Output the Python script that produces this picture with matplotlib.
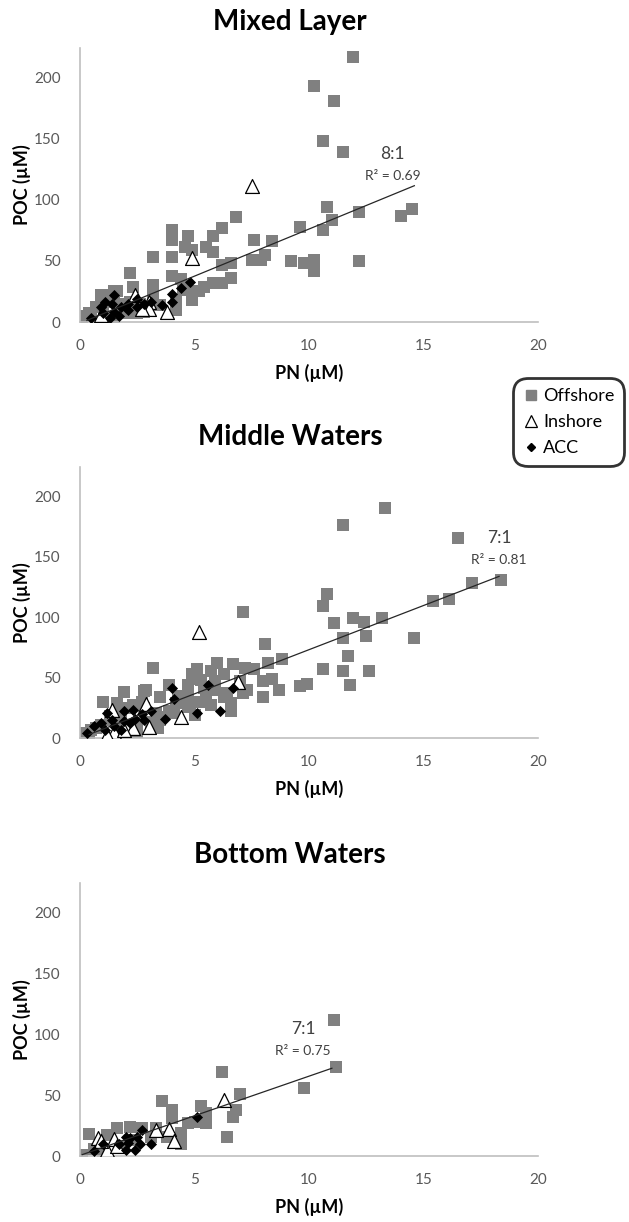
import numpy as np
import matplotlib
matplotlib.use("Agg")
import matplotlib.pyplot as plt
from matplotlib.lines import Line2D

plt.rcParams['font.family'] = ['Lato', 'DejaVu Sans']

# ---- Mixed Layer ----
ml_off_pn = [11.9, 10.2, 11.1, 10.6, 11.5, 10.8, 12.2, 14.0, 14.5, 11.0, 10.6, 9.6, 6.8, 6.2, 5.8, 5.5, 5.8,
             4.0, 4.0, 4.7, 4.6, 4.9, 7.6, 8.4, 8.1, 7.5, 7.9, 9.2, 9.8, 10.2, 10.2, 12.2, 6.6, 6.2, 6.6, 6.2,
             5.8, 5.4, 5.2, 4.9, 4.9, 3.2, 4.0, 2.2, 4.0, 4.4, 3.2, 2.3, 1.5, 0.9, 4.2, 3.2, 2.6, 2.8, 0.7,
             0.4, 0.1, 1.2, 1.9, 3.5, 2.5, 0.2, 1.5, 2.2, 0.9, 4.2,
             1.0, 1.6, 3.2, 0.5, 1.0, 1.8, 2.5, 3.2, 2.1, 1.5, 4.5]
ml_off_poc = [217, 193, 181, 148, 139, 94, 90, 87, 92, 83, 75, 78, 86, 77, 70, 61, 57,
              75, 67, 70, 61, 59, 67, 66, 55, 51, 51, 50, 48, 51, 42, 50, 48, 47, 36, 32,
              32, 29, 25, 18, 25, 53, 53, 40, 38, 35, 30, 29, 25, 22, 16, 23, 15, 8, 12,
              7, 3, 4, 10, 14, 7, 5, 16, 16, 1, 10,
              22, 25, 30, 7, 12, 15, 14, 15, 7, 4, 26]
ml_in_pn = [7.5, 4.9, 3.8, 2.4, 3.0, 3.0, 2.7, 0.9]
ml_in_poc = [111, 52, 8, 22, 16, 11, 11, 6]
ml_acc_pn = [4.8, 4.4, 4.0, 4.0, 3.6, 3.1, 2.8, 2.5, 2.1, 1.8, 1.5, 1.4, 1.1, 0.9, 1.5, 1.7, 1.3, 0.5,
             1.0, 2.1, 2.5]
ml_acc_poc = [33, 28, 23, 16, 14, 16, 15, 19, 15, 12, 22, 15, 16, 12, 8, 5, 3, 3, 7, 10, 12]

# ---- Middle Waters ----
mw_off_pn = [13.3, 11.5, 16.5, 17.1, 18.4, 15.4, 16.1, 7.1, 10.8, 10.6, 11.1, 11.9, 12.4, 13.2, 11.5,
             12.5, 14.6, 8.1, 11.7, 8.8, 8.2, 3.2, 10.6, 11.5, 12.6, 11.8, 9.9, 9.6, 8.7, 8.0, 6.0,
             6.7, 7.2, 7.6, 5.1, 5.7, 6.3, 5.1, 5.9, 7.0, 8.0, 8.4, 7.3, 7.1, 6.4, 5.9, 5.4, 4.7,
             4.7, 3.9, 3.5, 1.9, 2.8, 1.0, 6.6, 6.6, 5.7, 5.2, 4.7, 4.2, 3.9, 3.3, 2.8, 2.3, 1.7,
             1.3, 3.5, 2.5, 1.6, 0.7, 0.2, 0.0, 0.4, 4.9, 5.5, 4.3, 5.0, 3.1,
             2.9, 4.4, 4.9, 5.3, 5.8, 6.3, 4.8, 4.1, 3.5, 3.1, 2.5, 1.8, 1.3, 0.9, 0.5, 1.6, 2.2,
             2.7, 3.4]
mw_off_poc = [190, 176, 165, 128, 131, 113, 115, 104, 119, 109, 95, 99, 96, 99, 83,
              84, 83, 78, 68, 65, 62, 58, 57, 55, 55, 44, 45, 43, 40, 34, 62,
              61, 58, 57, 57, 55, 53, 49, 47, 47, 47, 49, 40, 37, 37, 40, 41, 44,
              37, 44, 34, 38, 39, 30, 29, 22, 27, 30, 26, 29, 22, 21, 25, 27, 25,
              18, 15, 5, 12, 8, 4, 1, 3, 30, 34, 33, 19, 11,
              40, 35, 53, 48, 42, 34, 29, 21, 17, 13, 12, 16, 15, 11, 7, 29, 25,
              30, 8]
mw_in_pn = [5.2, 6.9, 4.4, 2.9, 1.4, 3.0, 2.3, 1.5, 1.2, 1.9]
mw_in_poc = [88, 46, 17, 28, 23, 9, 8, 5, 2.5, 7]
mw_acc_pn = [0.3, 0.6, 0.9, 1.2, 1.1, 1.4, 1.5, 1.9, 1.9, 1.8, 2.2, 2.3, 2.4, 2.7, 2.8, 3.1, 3.7, 4.1,
             4.0, 5.1, 5.6, 6.1, 6.7]
mw_acc_poc = [4, 10, 12, 21, 7, 15, 10, 22, 14, 7, 12, 23, 16, 20, 15, 22, 16, 32,
              41, 21, 44, 22, 41]

# ---- Bottom Waters ----
bw_off_pn = [11.1, 11.2, 9.8, 6.2, 7.0, 6.8, 6.7, 6.4, 3.6, 4.0, 4.0, 5.3, 5.5, 5.5, 4.7, 5.0, 4.4,
             3.3, 2.7, 2.2, 1.6, 0.4, 1.2, 0.1, 0.6, 1.0, 4.4, 3.8, 3.1, 1.7, 2.4]
bw_off_poc = [112, 73, 56, 69, 51, 38, 32, 16, 45, 38, 31, 41, 35, 27, 27, 28, 19,
              23, 23, 24, 23, 18, 17, 1, 6, 2, 10, 16, 16, 8, 13]
bw_in_pn = [6.3, 3.9, 3.3, 4.1, 0.8, 1.5, 1.2, 1.6, 0.9]
bw_in_poc = [46, 22, 21, 12, 15, 14, 5, 8, 12]
bw_acc_pn = [5.1, 2.7, 2.5, 2.2, 2.0, 2.1, 3.1, 2.4, 2.0, 1.7, 1.0, 0.6, 2.6]
bw_acc_poc = [32, 21, 16, 15, 16, 11, 10, 5, 5, 10, 10, 4, 10]

# trendlines: slope, intercept, x range, ratio label, R2
titles = ['Mixed Layer', 'Middle Waters', 'Bottom Waters']
fit_slope = [7.7, 7.3, 6.5]
fit_icpt = [-1.0, 0.0, 0.5]
fit_xmin = [0.3, 0.4, 0.1]
fit_xmax = [14.6, 18.3, 11.0]
ratios = ['8:1', '7:1', '7:1']
r2 = [0.69, 0.81, 0.75]
label_x = [13.65, 18.3, 9.74]
label_y = [137, 165, 104.5]

panels = [(ml_off_pn, ml_off_poc, ml_in_pn, ml_in_poc, ml_acc_pn, ml_acc_poc),
          (mw_off_pn, mw_off_poc, mw_in_pn, mw_in_poc, mw_acc_pn, mw_acc_poc),
          (bw_off_pn, bw_off_poc, bw_in_pn, bw_in_poc, bw_acc_pn, bw_acc_poc)]

W, H = 629, 1222
fig = plt.figure(figsize=(W/100, H/100), dpi=100)

# axes boxes in pixels: (top, bottom)
boxes = [(48, 322), (467, 738), (883, 1156)]
title_y = [22, 437, 855]
left, right = 80, 538

axis_grey = '#bfbfbf'
tick_grey = '#595959'
txt_grey = '#404040'

for i, (box, data) in enumerate(zip(boxes, panels)):
    top, bot = box
    ax = fig.add_axes([left/W, 1 - bot/H, (right-left)/W, (bot-top)/H])
    off_x, off_y, in_x, in_y, acc_x, acc_y = data

    ax.scatter(off_x, off_y, marker='s', s=64, color='#808080', linewidths=0, label='Offshore', zorder=2)
    ax.scatter(in_x, in_y, marker='^', s=100, facecolor='white', edgecolor='black', linewidths=0.9,
               label='Inshore', zorder=3)
    ax.scatter(acc_x, acc_y, marker='D', s=32, color='black', linewidths=0, label='ACC', zorder=4)

    xx = np.array([fit_xmin[i], fit_xmax[i]])
    ax.plot(xx, fit_slope[i]*xx + fit_icpt[i], color='#262626', lw=0.9, zorder=5)

    ax.text(label_x[i], label_y[i], ratios[i], ha='center', va='center', fontsize=12.5, color=txt_grey)
    ax.text(label_x[i], label_y[i] - 18, 'R² = %.2f' % r2[i], ha='center', va='center',
            fontsize=10, color=txt_grey)

    ax.set_xlim(0, 20)
    ax.set_ylim(0, 224)
    ax.set_xticks([0, 5, 10, 15, 20])
    ax.set_yticks([0, 50, 100, 150, 200])
    for s in ['top', 'right']:
        ax.spines[s].set_visible(False)
    for s in ['left', 'bottom']:
        ax.spines[s].set_color(axis_grey)
        ax.spines[s].set_linewidth(1.2)
    ax.tick_params(length=0, labelsize=11, labelcolor=tick_grey)
    ax.tick_params(axis='y', pad=14)
    ax.tick_params(axis='x', pad=12)

    ax.set_ylabel('POC (µM)', fontsize=13, fontweight='bold')
    ax.yaxis.set_label_coords(-(left - 22)/(right-left), 0.5)
    ax.set_xlabel('PN (µM)', fontsize=13, fontweight='bold')
    ax.xaxis.set_label_coords(0.5, -51/(bot-top))
    ax.xaxis.label.set_va('center')
    ax.yaxis.label.set_va('center')

    fig.text(290/W, 1 - title_y[i]/H, titles[i], ha='center', va='center', fontsize=20,
             fontweight='bold')

# legend box on the right, between first and second panel
leg_handles = [Line2D([], [], marker='s', ls='', color='#808080', markersize=7),
               Line2D([], [], marker='^', ls='', markerfacecolor='white', markeredgecolor='black',
                      markersize=8, markeredgewidth=0.9),
               Line2D([], [], marker='D', ls='', color='black', markersize=4.5)]
leg = fig.legend(leg_handles, ['Offshore', 'Inshore', 'ACC'], loc='upper left',
                 bbox_to_anchor=(517/W, 1 - 382/H), fontsize=13, frameon=True, fancybox=True,
                 handlelength=0.8, handletextpad=0.3, labelspacing=0.55, borderpad=0.35,
                 borderaxespad=0)
leg.get_frame().set_edgecolor('black')
leg.get_frame().set_linewidth(2)
leg.get_frame().set_boxstyle('round,pad=0.2,rounding_size=0.8')

fig.savefig('out.png', dpi=100)
